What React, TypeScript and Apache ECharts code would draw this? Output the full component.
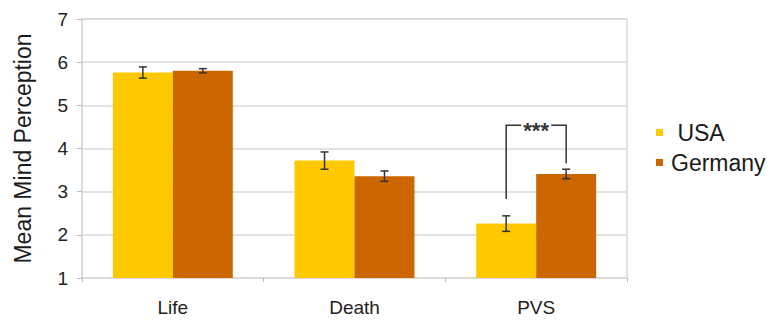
import React, { useEffect, useRef } from "react";
import * as echarts from "echarts";

const categories = ["Life", "Death", "PVS"];
const seriesNames = ["USA", "Germany"];
const usaMeans = [5.76, 3.72, 2.26];
const usaErr = [0.13, 0.2, 0.18];
const germanyMeans = [5.8, 3.36, 3.41];
const germanyErr = [0.05, 0.12, 0.11];
const colors = ["#FFC900", "#CC6600"];
// significance bracket: category index, top, left leg end, right leg end, label
const bracket = { cat: 2, top: 4.54, leftEnd: 2.83, rightEnd: 3.66, label: "***" };

const BAR_GAP_FRAC = 0.66; // fraction of category width occupied by the two bars

function errorSeries(means: number[], errs: number[], side: number) {
  return {
    type: "custom",
    silent: true,
    z: 10,
    data: means.map((m, i) => [i, m - errs[i], m + errs[i]]),
    renderItem: (params: any, api: any) => {
      const idx = api.value(0);
      const lo = api.coord([idx, api.value(1)]);
      const hi = api.coord([idx, api.value(2)]);
      const bandW = api.size([1, 0])[0];
      const barW = (bandW * BAR_GAP_FRAC) / 2;
      const x = lo[0] + side * barW / 2;
      const cap = 4;
      const style = { stroke: "#333", lineWidth: 1.5 };
      return {
        type: "group",
        children: [
          { type: "line", shape: { x1: x, y1: lo[1], x2: x, y2: hi[1] }, style },
          { type: "line", shape: { x1: x - cap, y1: lo[1], x2: x + cap, y2: lo[1] }, style },
          { type: "line", shape: { x1: x - cap, y1: hi[1], x2: x + cap, y2: hi[1] }, style },
        ],
      };
    },
  };
}

export default function App() {
  const ref = useRef<HTMLDivElement>(null);
  useEffect(() => {
    if (!ref.current) return;
    const chart = echarts.init(ref.current, null, { renderer: "svg" });
    const font = "'Liberation Sans', Arial, sans-serif";
    chart.setOption({
      animation: false,
      textStyle: { fontFamily: font },
      grid: {
        left: 82, right: 140, top: 19, bottom: 43,
        show: true, borderColor: "#d9d9d9", borderWidth: 1.5,
      },
      legend: {
        orient: "vertical",
        left: 651,
        top: 116,
        itemWidth: 7,
        itemHeight: 7,
        itemGap: 7,
        icon: "rect",
        data: seriesNames,
        formatter: (n: string) => (n === "USA" ? " USA" : n),
        textStyle: { fontSize: 23, color: "#1a1a1a", fontFamily: font, padding: [0, 0, 0, 3] },
      },
      xAxis: {
        type: "category",
        data: categories,
        axisLine: { lineStyle: { color: "#d9d9d9", width: 1.5 } },
        axisTick: { show: true, length: 4, lineStyle: { color: "#bbb" } },
        axisLabel: { fontSize: 19, color: "#222", margin: 20 },
      },
      yAxis: {
        type: "value",
        min: 1,
        max: 7,
        interval: 1,
        name: "Mean Mind Perception",
        nameLocation: "middle",
        nameGap: 48,
        nameTextStyle: { fontSize: 23, color: "#1a1a1a" },
        axisLine: { show: true, lineStyle: { color: "#d9d9d9", width: 1.5 } },
        axisTick: { show: true, length: 5, lineStyle: { color: "#bbb" } },
        axisLabel: { fontSize: 19, color: "#222", margin: 14 },
        splitLine: { lineStyle: { color: "#d9d9d9", width: 1.5 } },
      },
      series: [
        {
          name: seriesNames[0], type: "bar", data: usaMeans,
          itemStyle: { color: colors[0] }, barGap: "0%", barCategoryGap: "34%",
        },
        {
          name: seriesNames[1], type: "bar", data: germanyMeans,
          itemStyle: { color: colors[1] }, barGap: "0%", barCategoryGap: "34%",
        },
        errorSeries(usaMeans, usaErr, -1),
        errorSeries(germanyMeans, germanyErr, 1),
        {
          type: "custom",
          silent: true,
          z: 11,
          data: [[bracket.cat, bracket.top, bracket.leftEnd, bracket.rightEnd]],
          renderItem: (params: any, api: any) => {
            const idx = api.value(0);
            const top = api.coord([idx, api.value(1)]);
            const l = api.coord([idx, api.value(2)]);
            const r = api.coord([idx, api.value(3)]);
            const bandW = api.size([1, 0])[0];
            const barW = (bandW * BAR_GAP_FRAC) / 2;
            const xl = top[0] - barW / 2;
            const xr = top[0] + barW / 2;
            const style = { stroke: "#333", lineWidth: 1.5, fill: "none" };
            return {
              type: "group",
              children: [
                { type: "polyline", shape: { points: [[xl, l[1]], [xl, top[1]], [top[0] - 15, top[1]]] }, style },
                { type: "polyline", shape: { points: [[top[0] + 15, top[1]], [xr, top[1]], [xr, r[1]]] }, style },
                {
                  type: "text",
                  style: {
                    x: top[0], y: top[1] + 5, text: bracket.label,
                    fontSize: 22, fontWeight: "bold", fontFamily: font, fill: "#333",
                    align: "center", verticalAlign: "middle",
                  },
                },
              ],
            };
          },
        },
      ],
    });
    return () => chart.dispose();
  }, []);
  return (
    <div
      ref={ref}
      style={{ position: "absolute", left: 0, top: 0, width: 767, height: 321 }}
    />
  );
}
